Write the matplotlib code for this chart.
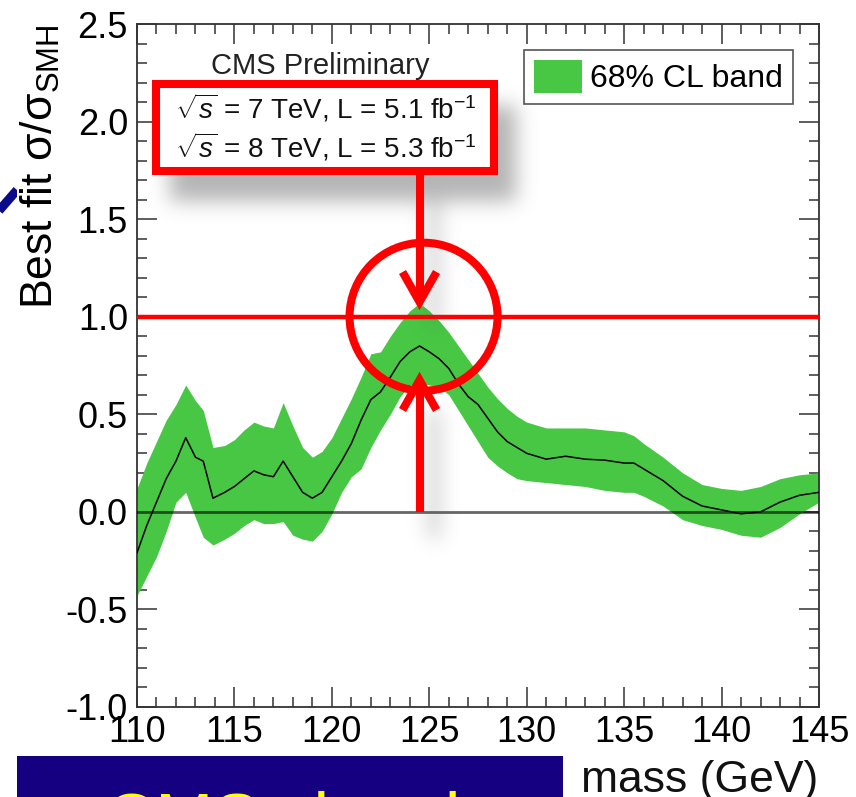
import numpy as np
import matplotlib
matplotlib.use("Agg")
import matplotlib.pyplot as plt
from matplotlib.patches import Patch, Rectangle, Circle
from matplotlib.lines import Line2D
from matplotlib.ticker import MultipleLocator, FormatStrFormatter

plt.rcParams['font.family'] = ['Liberation Sans', 'DejaVu Sans']
plt.rcParams['mathtext.fontset'] = 'custom'
plt.rcParams['mathtext.rm'] = 'Liberation Sans'
plt.rcParams['mathtext.it'] = 'Liberation Sans:italic'
plt.rcParams['mathtext.sf'] = 'Liberation Sans'
plt.rcParams['axes.unicode_minus'] = False

# ---------------- data ----------------
mass = [110.0, 110.5, 111.0, 111.5, 112.0, 112.5, 113.0, 113.4, 113.9, 114.5,
        115.0, 115.5, 116.0, 116.5, 117.0, 117.5, 118.0, 118.5, 119.0, 119.5,
        120.0, 120.5, 121.0, 121.5, 122.0, 122.5, 123.0, 123.5, 124.0, 124.5,
        125.0, 125.5, 126.0, 126.5, 127.0, 127.5, 128.0, 128.5, 129.0, 129.5,
        130.0, 131.0, 132.0, 133.0, 134.0, 135.0, 135.5, 136.0, 137.0, 138.0,
        139.0, 140.0, 141.0, 142.0, 143.0, 144.0, 145.0]
best_fit = [-0.21, -0.07, 0.05, 0.17, 0.26, 0.38, 0.28, 0.26, 0.07, 0.10,
            0.13, 0.17, 0.21, 0.19, 0.18, 0.26, 0.18, 0.10, 0.07, 0.10,
            0.18, 0.26, 0.35, 0.47, 0.575, 0.615, 0.69, 0.77, 0.82, 0.85,
            0.82, 0.785, 0.735, 0.655, 0.59, 0.55, 0.48, 0.41, 0.36, 0.33,
            0.30, 0.27, 0.285, 0.27, 0.265, 0.25, 0.25, 0.22, 0.16, 0.08,
            0.03, 0.01, -0.01, 0.00, 0.05, 0.085, 0.10]
band_hi = [0.12, 0.25, 0.36, 0.47, 0.55, 0.65, 0.57, 0.52, 0.33, 0.34,
           0.37, 0.42, 0.46, 0.44, 0.43, 0.56, 0.44, 0.33, 0.28, 0.31,
           0.38, 0.48, 0.58, 0.69, 0.81, 0.82, 0.90, 0.97, 1.03, 1.07,
           1.03, 0.98, 0.92, 0.85, 0.78, 0.71, 0.64, 0.58, 0.53, 0.49,
           0.46, 0.43, 0.43, 0.43, 0.42, 0.41, 0.39, 0.35, 0.28, 0.20,
           0.14, 0.12, 0.11, 0.13, 0.17, 0.19, 0.20]
band_lo = [-0.43, -0.33, -0.23, -0.10, 0.05, 0.10, -0.03, -0.13, -0.17, -0.14,
           -0.11, -0.07, -0.04, -0.06, -0.06, -0.05, -0.12, -0.14, -0.15, -0.10,
           -0.01, 0.10, 0.18, 0.22, 0.33, 0.42, 0.50, 0.59, 0.65, 0.66,
           0.65, 0.64, 0.60, 0.52, 0.44, 0.36, 0.28, 0.235, 0.20, 0.17,
           0.16, 0.15, 0.14, 0.13, 0.11, 0.10, 0.10, 0.08, 0.03, -0.04,
           -0.07, -0.09, -0.12, -0.13, -0.08, -0.01, 0.05]

y_ticks = [-1.0, -0.5, 0.0, 0.5, 1.0, 1.5, 2.0, 2.5]
x_ticks = [110, 115, 120, 125, 130, 135, 140, 145]
band_label = '68% CL band'
sm_value = 1.0
highlight_mass = 124.5

GREEN = '#47c744'
RED = '#ff0000'
W, H = 856, 797

fig = plt.figure(figsize=(W / 100, H / 100), dpi=100)
fig.patch.set_facecolor('white')

ax = fig.add_axes([137 / W, 1 - 707 / H, 682 / W, 683 / H])
ax.fill_between(mass, band_lo, band_hi, color=GREEN, linewidth=0, zorder=2)
ax.plot(mass, best_fit, color='black', lw=1.1, zorder=3)
ax.axhline(0.0, color='black', alpha=0.6, lw=2.0, zorder=4)
ax.axhline(sm_value, color=RED, lw=3.2, zorder=5)

ax.set_xlim(110, 145)
ax.set_ylim(-1.0, 2.5)
ax.set_xticks(x_ticks)
ax.set_yticks(y_ticks)
ax.xaxis.set_minor_locator(MultipleLocator(1))
ax.yaxis.set_minor_locator(MultipleLocator(0.1))
ax.yaxis.set_major_formatter(FormatStrFormatter('%.1f'))
ax.tick_params(which='both', direction='in', top=True, right=True,
               color='#333333', width=1.1, labelsize=26)
ax.tick_params(which='major', length=14.4)
ax.tick_params(which='minor', length=7.2)
ax.tick_params(axis='y', pad=6.5)
ax.tick_params(axis='x', pad=6)
for s in ax.spines.values():
    s.set_color('#333333')
    s.set_linewidth(1.3)

leg = ax.legend(handles=[Patch(facecolor=GREEN, edgecolor='none', label=band_label)],
                loc='upper left', bbox_to_anchor=(524 / W, 1 - 50 / H),
                bbox_transform=fig.transFigure, borderaxespad=0, fontsize=23,
                frameon=True, fancybox=False, framealpha=1, edgecolor='#555555',
                handlelength=1.5, handleheight=1.25, handletextpad=0.28,
                borderpad=0.3)
leg.get_frame().set_linewidth(1.2)

# ---------------- overlay (pixel coordinates) ----------------
ov = fig.add_axes([0, 0, 1, 1], zorder=10)
ov.set_axis_off()

def xpix(m):
    return 137 + (m - 110) * 682 / 35.0

def ypix(v):
    return 707 - (v + 1.0) * 683 / 3.5

ax_x = xpix(highlight_mass)

# soft drop shadow
mask = np.zeros((H, W))
dx, dy = 18, 26
mask[80 + dy:175 + dy, 152 + dx:498 + dx] = 1.0
xa = int(round(ax_x))
mask[175 + dy:300 + dy, xa - 8 + dx:xa + dx] = 1.0
mask[385 + dy:512 + dy, xa - 8 + dx:xa + dx] = 1.0

def blur(a, s):
    r = int(3 * s)
    k = np.exp(-0.5 * (np.arange(-r, r + 1) / s) ** 2)
    k /= k.sum()
    a = np.apply_along_axis(lambda m: np.convolve(m, k, 'same'), 0, a)
    a = np.apply_along_axis(lambda m: np.convolve(m, k, 'same'), 1, a)
    return a

mask = blur(mask, 10)
rgba = np.zeros((H, W, 4))
rgba[..., :3] = 0.35
rgba[..., 3] = 0.45 * mask
ov.imshow(rgba, extent=(0, W, H, 0), interpolation='bilinear', aspect='auto', zorder=1)
ov.set_xlim(0, W)
ov.set_ylim(H, 0)

# red annotation box
ov.add_patch(Rectangle((156, 84), 338, 87, facecolor='white', edgecolor=RED,
                       lw=5.8, joinstyle='miter', zorder=3))
ov.text(175, 118, r'$\sqrt{s}$ = 7 TeV, L = 5.1 fb$^{-1}$', fontsize=20,
        ha='left', va='baseline', color='#111111', zorder=4)
ov.text(175, 157, r'$\sqrt{s}$ = 8 TeV, L = 5.3 fb$^{-1}$', fontsize=20,
        ha='left', va='baseline', color='#111111', zorder=4)
ov.text(320, 74, 'CMS Preliminary', fontsize=21, ha='center', va='baseline',
        color='#222222', zorder=4)

# arrows
y_sm = ypix(sm_value)
ov.add_line(Line2D([ax_x, ax_x], [175, 298], color=RED, lw=5.8,
                   solid_capstyle='butt', zorder=5))
ov.add_line(Line2D([ax_x - 17, ax_x, ax_x + 17], [272, 302, 272], color=RED,
                   lw=5.8, solid_joinstyle='miter', solid_capstyle='butt', zorder=5))
ov.add_line(Line2D([ax_x, ax_x], [ypix(0.0), 384], color=RED, lw=5.8,
                   solid_capstyle='butt', zorder=5))
ov.add_line(Line2D([ax_x - 17, ax_x, ax_x + 17], [410, 380, 410], color=RED,
                   lw=5.8, solid_joinstyle='miter', solid_capstyle='butt', zorder=5))
# circle
ov.add_patch(Circle((ax_x + 4, y_sm), 74, fill=False, edgecolor=RED, lw=5.8, zorder=5))

# y label
ov.text(40, 24, r'Best fit σ/σ$_{\mathregular{SMH}}$', rotation=90, fontsize=32,
        ha='center', va='top', color='black', zorder=4)
# x label
ov.text(818, 792, 'mass (GeV)', fontsize=32, ha='right', va='baseline',
        color='#111111', zorder=4)

# slide elements: blue diagonal line and blue title box
bl = Line2D([-10, 17], [221, 190], color='#0a0a8c', lw=6.5, solid_capstyle='butt', zorder=2)
ov.add_line(bl)
clip = Rectangle((-20, 0), 37, H, transform=ov.transData)
bl.set_clip_path(clip)
box = Rectangle((17, 756), 546, 60, facecolor='#140080', edgecolor='none', zorder=6)
ov.add_patch(box)
t = ov.text(105, 841, 'CMS signal', fontsize=50, color='#ffff00', ha='left',
            va='baseline', zorder=7)
t.set_clip_path(box)

fig.savefig('out.png', dpi=100)
